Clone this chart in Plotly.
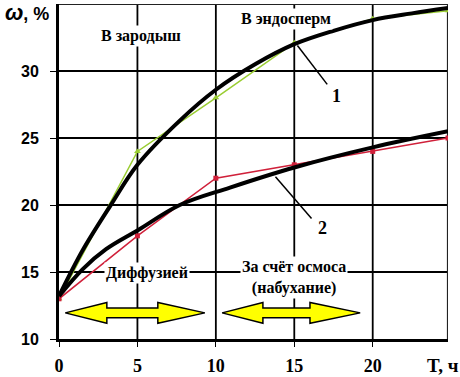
import plotly.graph_objects as go

# data
t_pts = [0, 5, 10, 15, 20, 24.8]
w_embryo = [13.0, 24.0, 28.0, 32.1, 33.9, 34.5]      # series 1 (green)
w_endo = [13.0, 17.7, 22.0, 23.0, 24.0, 25.0]         # series 2 (red)

t_fit1 = [0, 1.5, 3.25, 5, 7.7, 10, 12.5, 15, 17.5, 20, 22.5, 24.8]
w_fit1 = [13.2, 16.6, 19.9, 23.0, 26.3, 28.6, 30.5, 32.0, 33.0, 33.8, 34.3, 34.7]
t_fit2 = [0, 1.5, 3, 5, 7.7, 10.9, 15, 20, 24.8]
w_fit2 = [13.2, 15.2, 16.7, 18.1, 20.0, 21.3, 22.8, 24.3, 25.5]

x_ticks = [0, 5, 10, 15, 20]
y_ticks = [10, 15, 20, 25, 30]
x_range = [0, 24.8]
y_range = [10, 35]

# arrows: [left tip, left head base, right head base, right tip]
arrow1 = [0.4, 3.05, 6.3, 9.3]
arrow2 = [10.4, 13.0, 16.0, 19.2]
arrow_y = 11.95

fig = go.Figure()

# grid drawn as background traces (one per line)
for xv in x_ticks[1:]:
    fig.add_trace(go.Scatter(x=[xv, xv], y=y_range, mode="lines",
                             line=dict(color="black", width=1.8), hoverinfo="skip"))
for yv in y_ticks[1:]:
    fig.add_trace(go.Scatter(x=x_range, y=[yv, yv], mode="lines",
                             line=dict(color="black", width=1.8), hoverinfo="skip"))
# top / right border
fig.add_trace(go.Scatter(x=[x_range[0], x_range[1], x_range[1]], y=[y_range[1], y_range[1], y_range[0]],
                         mode="lines", line=dict(color="#222222", width=2.2), hoverinfo="skip",
                         cliponaxis=False))

fig.add_trace(go.Scatter(x=t_pts, y=w_embryo, mode="lines+markers",
                         line=dict(color="#9acd32", width=1.5),
                         marker=dict(symbol="triangle-up", size=6, color="#9acd32")))
fig.add_trace(go.Scatter(x=t_pts, y=w_endo, mode="lines+markers",
                         line=dict(color="#d0203a", width=1.5),
                         marker=dict(symbol="square", size=5, color="#d0203a")))
fig.add_trace(go.Scatter(x=t_fit1, y=w_fit1, mode="lines",
                         line=dict(color="black", width=4, shape="spline")))
fig.add_trace(go.Scatter(x=t_fit2, y=w_fit2, mode="lines",
                         line=dict(color="black", width=4, shape="spline")))


def arrow_path(a, yc, sh=0.36, hh=0.78):
    x0, x1, x2, x3 = a
    pts = [(x0, yc), (x1, yc + hh), (x1, yc + sh), (x2, yc + sh), (x2, yc + hh),
           (x3, yc), (x2, yc - hh), (x2, yc - sh), (x1, yc - sh), (x1, yc - hh)]
    return "M " + " L ".join(f"{px},{py}" for px, py in pts) + " Z"


shapes = []
for a in (arrow1, arrow2):
    shapes.append(dict(type="path", path=arrow_path(a, arrow_y), xref="x", yref="y",
                       fillcolor="#ffff00", line=dict(color="black", width=1.5), layer="above"))
# callout lines
shapes.append(dict(type="line", xref="x", yref="y", x0=15.2, y0=31.9, x1=17.1, y1=29.0,
                   line=dict(color="black", width=1.5)))
shapes.append(dict(type="line", xref="x", yref="y", x0=13.8, y0=22.1, x1=16.1, y1=19.0,
                   line=dict(color="black", width=1.5)))

serif = dict(family="Liberation Serif", size=16, color="black", weight="bold")
annotations = [
    dict(x=5.2, y=32.6, text="В зародыш", showarrow=False, font=serif, bgcolor="white", xref="x", yref="y"),
    dict(x=14.5, y=33.9, text="В эндосперм", showarrow=False, font=serif, bgcolor="white", xref="x", yref="y"),
    dict(x=5.6, y=14.9, text="Диффузией", showarrow=False, font=serif, bgcolor="white", xref="x", yref="y"),
    dict(x=15.0, y=14.6, text="За счёт осмоса<br>(набухание)", showarrow=False, font=serif,
         bgcolor="white", xref="x", yref="y"),
    dict(x=17.7, y=28.1, text="1", showarrow=False,
         font=dict(family="Liberation Serif", size=18, color="black", weight="bold"), xref="x", yref="y"),
    dict(x=16.8, y=18.3, text="2", showarrow=False,
         font=dict(family="Liberation Serif", size=18, color="black", weight="bold"), xref="x", yref="y"),
    dict(x=-0.082, y=0.975, xref="paper", yref="paper", xanchor="center", yanchor="middle",
         text="<i><span style='font-size:22px'>ω</span></i>, %", showarrow=False,
         font=dict(family="Liberation Sans", size=18, color="black", weight="bold")),
    dict(x=0.987, y=-0.078, xref="paper", yref="paper", xanchor="center", yanchor="middle",
         text="T, ч", showarrow=False,
         font=dict(family="Liberation Serif", size=19, color="black", weight="bold")),
]

fig.update_layout(
    width=460, height=377,
    margin=dict(l=59, r=12, t=4, b=38),
    paper_bgcolor="white", plot_bgcolor="white",
    showlegend=False,
    shapes=shapes, annotations=annotations,
    xaxis=dict(range=x_range, tickvals=x_ticks, ticktext=[str(v) for v in x_ticks],
               showgrid=True, gridcolor="black", gridwidth=1, zeroline=False, automargin=False,
               showline=True, linecolor="black", linewidth=3,
               ticks="outside", ticklen=5, tickcolor="black", ticklabelstandoff=3,
               tickfont=dict(family="Liberation Serif", size=18, color="black", weight="bold")),
    yaxis=dict(range=y_range, tickvals=y_ticks, ticktext=[str(v) for v in y_ticks],
               showgrid=True, gridcolor="black", gridwidth=1, zeroline=False, automargin=False,
               showline=True, linecolor="black", linewidth=3,
               ticks="outside", ticklen=6, tickcolor="black", ticklabelstandoff=8,
               tickfont=dict(family="Liberation Sans", size=16, color="black", weight="bold")),
)

fig.write_html("out.html", config={"displayModeBar": False},
               post_script="document.body.style.margin='0px';")
